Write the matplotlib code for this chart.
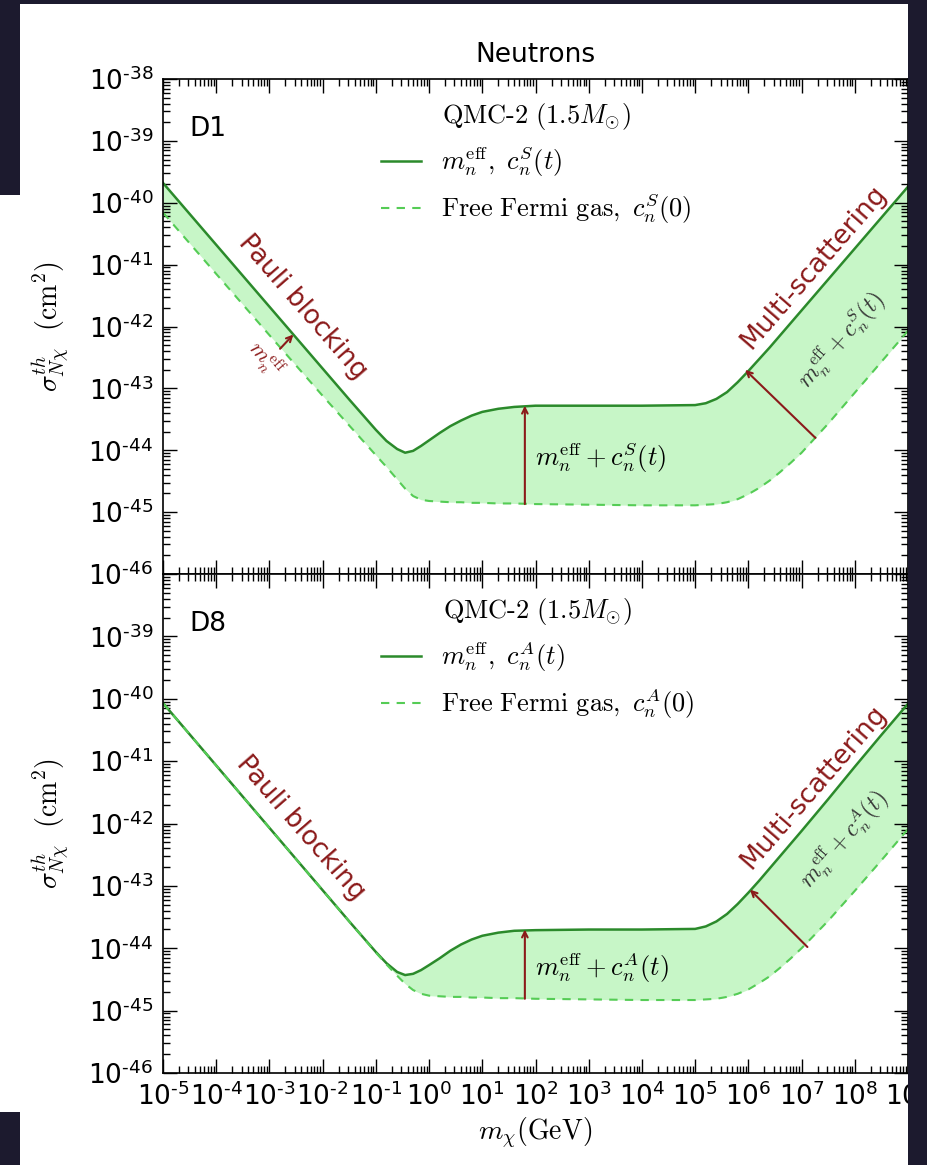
import numpy as np
import matplotlib
matplotlib.use("Agg")
import matplotlib.pyplot as plt
from matplotlib.patches import Rectangle
from matplotlib.lines import Line2D
from matplotlib.font_manager import FontProperties
from matplotlib.ticker import LogLocator, FuncFormatter, NullFormatter

# log10 of the DM mass grid (GeV)
log_m = [-5, -4, -3, -2, -1.5, -1, -0.8, -0.6, -0.45, -0.3, -0.15, 0, 0.2, 0.4,
         0.6, 0.8, 1.0, 1.3, 1.6, 2, 3, 4, 5, 5.2, 5.4, 5.6, 5.8, 6.0, 6.2, 6.4,
         6.6, 6.8, 7, 7.5, 8, 8.5, 9]

# log10 of sigma_th (cm^2), D1 operator
d1_eff = [-39.68, -40.68, -41.68, -42.68, -43.18, -43.67, -43.85, -43.98, -44.04,
          -44.01, -43.93, -43.84, -43.72, -43.61, -43.52, -43.44, -43.38, -43.33,
          -43.30, -43.28, -43.28, -43.28, -43.27, -43.24, -43.17, -43.06, -42.90,
          -42.72, -42.53, -42.34, -42.14, -41.94, -41.74, -41.24, -40.74, -40.24,
          -39.74]
d1_free = [-40.16, -41.15, -42.14, -43.12, -43.60, -44.08, -44.27, -44.47, -44.62,
           -44.74, -44.80, -44.82, -44.83, -44.84, -44.84, -44.85, -44.85, -44.86,
           -44.86, -44.87, -44.88, -44.89, -44.89, -44.88, -44.87, -44.84, -44.79,
           -44.71, -44.61, -44.49, -44.35, -44.20, -44.04, -43.57, -43.07, -42.57,
           -42.07]

# D8 operator
d8_eff = [-40.07, -41.07, -42.07, -43.07, -43.57, -44.06, -44.24, -44.38, -44.43,
          -44.41, -44.35, -44.27, -44.16, -44.04, -43.94, -43.86, -43.80, -43.75,
          -43.72, -43.71, -43.70, -43.70, -43.69, -43.65, -43.57, -43.45, -43.29,
          -43.11, -42.92, -42.72, -42.52, -42.32, -42.12, -41.61, -41.09, -40.58,
          -40.08]
d8_free = [-40.07, -41.07, -42.07, -43.07, -43.57, -44.07, -44.26, -44.44, -44.57,
           -44.67, -44.73, -44.76, -44.77, -44.78, -44.78, -44.79, -44.79, -44.80,
           -44.80, -44.81, -44.82, -44.83, -44.83, -44.82, -44.81, -44.78, -44.73,
           -44.66, -44.56, -44.45, -44.31, -44.16, -44.00, -43.56, -43.08, -42.59,
           -42.09]

panel_names = ["D1", "D8"]
coupling = ["S", "A"]

DARK_GREEN = "#2b8a2b"
LIGHT_GREEN = "#55cc55"
FILL = "#90ee90"
RED = "#8b1a1a"
FS = 19

m = 10.0 ** np.asarray(log_m)
curves = [(10.0 ** np.asarray(d1_eff), 10.0 ** np.asarray(d1_free)),
          (10.0 ** np.asarray(d8_eff), 10.0 ** np.asarray(d8_free))]

W, H = 927, 1165
fig = plt.figure(figsize=(W / 100, H / 100), dpi=100)
left, right = 163 / W, 908 / W
y_top, y_mid, y_bot = 1 - 79 / H, 1 - 574 / H, 1 - 1073 / H
ax1 = fig.add_axes([left, y_mid, right - left, y_top - y_mid])
ax2 = fig.add_axes([left, y_bot, right - left, y_mid - y_bot])

cmfp = FontProperties(size=FS, math_fontfamily="cm")


def pow_label(v):
    e = int(round(np.log10(v)))
    if e < 0:
        return r"$\mathregular{10^{\text{-}%d}}$" % (-e)
    return r"$\mathregular{10^{%d}}$" % e


for i, (ax, (eff, free)) in enumerate(zip([ax1, ax2], curves)):
    c = coupling[i]
    ax.set_xscale("log")
    ax.set_yscale("log")
    ax.fill_between(m, free, eff, color=FILL, alpha=0.5, lw=0)
    ax.plot(m, eff, color=DARK_GREEN, lw=1.8)
    ax.plot(m, free, color=LIGHT_GREEN, lw=1.5, dashes=(4, 3.5))
    ax.set_xlim(1e-5, 1e9)
    ax.set_ylim(1e-46, 1e-38)

    ax.xaxis.set_major_locator(LogLocator(base=10, numticks=30))
    ax.xaxis.set_minor_locator(LogLocator(base=10, subs=np.arange(2, 10), numticks=300))
    ax.yaxis.set_major_locator(LogLocator(base=10, numticks=30))
    ax.yaxis.set_minor_locator(LogLocator(base=10, subs=np.arange(2, 10), numticks=300))
    ax.xaxis.set_minor_formatter(NullFormatter())
    ax.yaxis.set_minor_formatter(NullFormatter())
    skip = (i == 1)
    ax.yaxis.set_major_formatter(FuncFormatter(
        lambda v, p, skip=skip: "" if (skip and v > 3e-39) else pow_label(v)))
    ax.xaxis.set_major_formatter(FuncFormatter(lambda v, p: pow_label(v)))
    ax.tick_params(which="both", direction="in", top=True, right=True,
                   labelsize=FS, width=1.0)
    ax.tick_params(which="major", length=10, pad=7)
    ax.tick_params(which="minor", length=5)
    for s in ax.spines.values():
        s.set_linewidth(1.2)

    ax.text(0.036, 0.90, panel_names[i], transform=ax.transAxes, fontsize=FS,
            ha="left", va="center")

    handles = [Line2D([], [], color=DARK_GREEN, lw=1.8),
               Line2D([], [], color=LIGHT_GREEN, lw=1.5, dashes=(4, 3.5))]
    labels = [r"$m_n^{\rm eff},\ c_n^{%s}(t)$" % c,
              r"$\mathrm{Free\ Fermi\ gas,}\ c_n^{%s}(0)$" % c]
    ax.legend(handles, labels, title=r"$\text{QMC-2}\ (1.5M_{\odot})$",
              prop=cmfp, title_fontproperties=cmfp, frameon=False,
              loc="upper left", bbox_to_anchor=(0.292, 0.955),
              handlelength=1.55, handletextpad=0.75, labelspacing=0.45,
              borderpad=0, borderaxespad=0)

    ax.set_ylabel(r"$\sigma_{N\chi}^{th}\ \ (\mathrm{cm}^2)$", fontsize=FS + 1,
                  math_fontfamily="cm")
    ax.yaxis.set_label_coords(-0.122, 0.5)

ax1.tick_params(labelbottom=False)
ax1.set_title("Neutrons", fontsize=FS, pad=12)
ax2.set_xlabel(r"$m_\chi(\mathrm{GeV})$", fontsize=FS + 1, math_fontfamily="cm")
ax2.xaxis.set_label_coords(0.5, -0.085)

# top panel annotations
arr = dict(arrowstyle="->", color=RED, lw=1.5, shrinkA=0, shrinkB=0)
ax1.text(10 ** -2.37, 10 ** -41.68, "Pauli blocking", color=RED, fontsize=FS,
         rotation=-49, rotation_mode="anchor", ha="center", va="center")
ax1.annotate("", xy=(10 ** -2.55, 10 ** -42.13), xytext=(10 ** -2.80, 10 ** -42.36),
             arrowprops=arr)
ax1.text(10 ** -3.08, 10 ** -42.54, r"$m_n^{\rm eff}$", color=RED, fontsize=FS - 3,
         math_fontfamily="cm", rotation=-49, rotation_mode="anchor",
         ha="center", va="center")
ax1.annotate("", xy=(10 ** 1.8, 10 ** -43.28), xytext=(10 ** 1.8, 10 ** -44.87),
             arrowprops=arr)
ax1.text(10 ** 1.99, 10 ** -44.12, r"$m_n^{\rm eff}+c_n^S(t)$", fontsize=FS,
         math_fontfamily="cm", ha="left", va="center")
ax1.annotate("", xy=(10 ** 5.94, 10 ** -42.70), xytext=(10 ** 7.26, 10 ** -43.80),
             arrowprops=arr)
ax1.text(10 ** 7.22, 10 ** -41.04, "Multi-scattering", color=RED, fontsize=FS,
         rotation=49, rotation_mode="anchor", ha="center", va="center")
ax1.text(10 ** 7.73, 10 ** -42.22, r"$m_n^{\rm eff}+c_n^S(t)$", color="#333333",
         fontsize=FS - 2, math_fontfamily="cm", rotation=49,
         rotation_mode="anchor", ha="center", va="center")

# bottom panel annotations
ax2.text(10 ** -2.41, 10 ** -42.07, "Pauli blocking", color=RED, fontsize=FS,
         rotation=-49, rotation_mode="anchor", ha="center", va="center")
ax2.annotate("", xy=(10 ** 1.8, 10 ** -43.70), xytext=(10 ** 1.8, 10 ** -44.81),
             arrowprops=arr)
ax2.text(10 ** 1.99, 10 ** -44.31, r"$m_n^{\rm eff}+c_n^A(t)$", fontsize=FS,
         math_fontfamily="cm", ha="left", va="center")
ax2.annotate("", xy=(10 ** 6.03, 10 ** -43.06), xytext=(10 ** 7.11, 10 ** -43.98),
             arrowprops=arr)
ax2.text(10 ** 7.22, 10 ** -41.41, "Multi-scattering", color=RED, fontsize=FS,
         rotation=49, rotation_mode="anchor", ha="center", va="center")
ax2.text(10 ** 7.78, 10 ** -42.26, r"$m_n^{\rm eff}+c_n^A(t)$", color="#333333",
         fontsize=FS - 2, math_fontfamily="cm", rotation=49,
         rotation_mode="anchor", ha="center", va="center")

# dark screen frame around the cropped figure
DARK = "#1c1a2e"
for (x0, y0, w, h) in [(0, 0, W, 4), (0, 0, 20, 195), (0, 1112, 20, H - 1112),
                       (908, 0, W - 908, H)]:
    fig.add_artist(Rectangle((x0 / W, 1 - (y0 + h) / H), w / W, h / H,
                             transform=fig.transFigure, color=DARK, lw=0,
                             zorder=20))

fig.savefig("out.png", dpi=100)
